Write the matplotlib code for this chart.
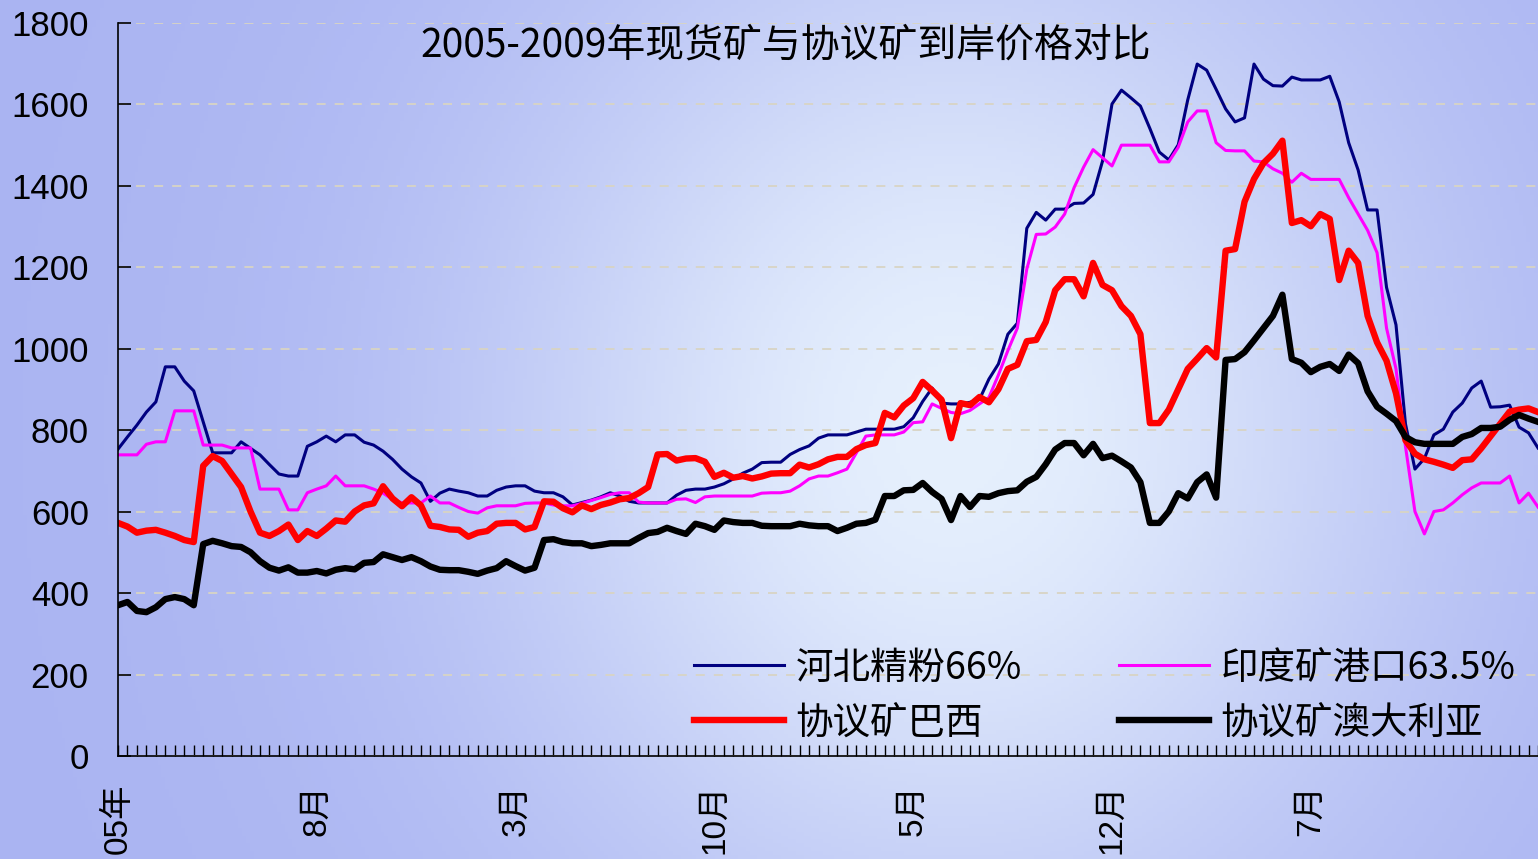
import numpy as np
import matplotlib.pyplot as plt
from matplotlib.lines import Line2D

# ~10-day price points, 2005 Jan -> 2009 Feb
hebei = [753, 783, 812, 844, 869, 955, 955, 920, 896, 820,
         744, 744, 744, 771, 755, 739, 715, 692, 687, 687,
         760, 771, 785, 771, 788, 788, 770, 763, 748, 728,
         704, 685, 670, 625, 645, 655, 650, 646, 638, 638,
         652, 660, 663, 663, 650, 646, 646, 636, 616, 622,
         628, 636, 646, 638, 625, 621, 621, 621, 621, 640,
         652, 655, 655, 660, 668, 680, 694, 704, 720, 721,
         721, 740, 752, 761, 780, 788, 788, 788, 795, 802,
         802, 802, 802, 808, 830, 870, 903, 866, 864, 864,
         868, 875, 925, 962, 1035, 1062, 1295, 1334, 1315, 1342,
         1342, 1356, 1357, 1378, 1460, 1600, 1634, 1615, 1595, 1540,
         1482, 1463, 1500, 1610, 1698, 1683, 1636, 1588, 1556, 1566,
         1698, 1661, 1645, 1644, 1666, 1659, 1659, 1659, 1668, 1605,
         1505, 1438, 1340, 1340, 1150, 1058, 815, 704, 730, 788,
         802, 844, 866, 903, 920, 856, 857, 861, 807, 793, 756]

india = [739, 739, 739, 765, 771, 771, 847, 847, 847, 763,
         763, 763, 756, 756, 756, 655, 655, 655, 604, 604,
         646, 655, 663, 687, 663, 663, 663, 655, 645, 630,
         621, 621, 621, 638, 621, 621, 610, 600, 596, 609,
         614, 614, 614, 620, 621, 621, 616, 614, 614, 620,
         627, 634, 642, 646, 646, 623, 621, 621, 621, 630,
         631, 622, 636, 638, 638, 638, 638, 638, 645, 646,
         646, 650, 663, 680, 687, 687, 695, 704, 744, 785,
         788, 788, 788, 795, 818, 820, 864, 853, 843, 840,
         848, 864, 880, 935, 995, 1050, 1195, 1280, 1281, 1298,
         1330, 1395, 1445, 1488, 1468, 1448, 1499, 1499, 1499, 1499,
         1458, 1458, 1494, 1556, 1583, 1583, 1505, 1486, 1485, 1485,
         1460, 1458, 1441, 1430, 1408, 1430, 1415, 1415, 1415, 1415,
         1370, 1330, 1290, 1235, 1050, 950, 760, 600, 545, 600,
         604, 621, 641, 658, 670, 670, 670, 687, 621, 645, 611]

brazil = [572, 563, 548, 553, 555, 548, 540, 530, 525, 712,
          736, 724, 692, 660, 600, 548, 540, 552, 568, 530,
          552, 540, 558, 578, 575, 600, 615, 620, 662, 632,
          613, 635, 615, 565, 562, 556, 555, 538, 548, 552,
          570, 572, 572, 556, 562, 625, 624, 608, 598, 615,
          606, 616, 622, 630, 633, 645, 660, 740, 741, 725,
          730, 731, 722, 685, 695, 683, 687, 681, 686, 693,
          694, 694, 715, 708, 716, 728, 734, 734, 753, 763,
          768, 842, 831, 860, 878, 918, 897, 874, 780, 866,
          861, 881, 868, 900, 950, 960, 1018, 1021, 1065, 1143,
          1170, 1170, 1128, 1210, 1156, 1143, 1104, 1080, 1035, 817,
          817, 850, 900, 950, 975, 1001, 978, 1240, 1244, 1360,
          1416, 1455, 1478, 1510, 1308, 1315, 1300, 1330, 1318, 1168,
          1240, 1210, 1080, 1015, 970, 890, 775, 742, 728, 722,
          715, 707, 726, 728, 755, 785, 815, 845, 850, 853, 844]

australia = [370, 378, 356, 353, 365, 385, 390, 385, 370, 520,
             528, 522, 515, 513, 500, 478, 462, 455, 463, 450,
             450, 454, 448, 457, 461, 458, 474, 476, 495, 488,
             481, 488, 478, 465, 457, 456, 456, 452, 447, 455,
             461, 478, 466, 455, 462, 530, 532, 525, 522, 522,
             515, 518, 522, 522, 522, 535, 547, 550, 560, 552,
             545, 570, 564, 555, 578, 574, 572, 572, 565, 564,
             564, 564, 570, 566, 564, 564, 552, 560, 570, 572,
             580, 638, 638, 652, 653, 670, 648, 631, 579, 638,
             611, 638, 636, 645, 650, 652, 673, 685, 716, 752,
             768, 768, 738, 766, 731, 737, 723, 708, 672, 572,
             572, 600, 645, 632, 672, 691, 634, 972, 974, 991,
             1020, 1050, 1080, 1132, 974, 965, 942, 955, 962, 945,
             985, 964, 895, 857, 840, 822, 783, 770, 766, 766,
             766, 766, 783, 790, 805, 805, 808, 825, 837, 828, 820]

tick_pos = [0, 21, 42, 63, 84, 105, 126]
tick_labels = ['05年', '8月', '3月', '10月', '5月', '12月', '7月']
y_ticks = [0, 200, 400, 600, 800, 1000, 1200, 1400, 1600, 1800]

cjk = ['Noto Sans CJK SC', 'DejaVu Sans']
latin = ['Liberation Sans', 'Noto Sans CJK SC']

W, H = 1538, 859
fig = plt.figure(figsize=(W / 100, H / 100), dpi=100)

# soft blue background
bg = fig.add_axes([0, 0, 1, 1], zorder=0)
bg.axis('off')
gx, gy = np.meshgrid(np.linspace(0, 1, 400), np.linspace(0, 1, 220))
base = np.array([170, 180, 242]) / 255
light = np.array([230, 240, 253]) / 255
wgt = np.exp(-((gx - 0.62) / 0.30) ** 2 - ((gy - 0.50) / 0.60) ** 2)
img = base * (1 - wgt[..., None]) + light * wgt[..., None]
bg.imshow(img, aspect='auto', extent=[0, 1, 0, 1], origin='upper')
bg.set_xlim(0, 1)
bg.set_ylim(0, 1)

ax = fig.add_axes([118 / W, 1 - 756 / H, 1 - 118 / W, (756 - 22.5) / H], zorder=1)
ax.patch.set_alpha(0)

x = np.arange(len(hebei))
ax.plot(x, hebei, color='#000080', lw=2.2, label='河北精粉66%')
ax.plot(x, india, color='#ff00ff', lw=2.2, label='印度矿港口63.5%')
ax.plot(x, brazil, color='#ff0000', lw=4.6, label='协议矿巴西')
ax.plot(x, australia, color='black', lw=4.6, label='协议矿澳大利亚')

ax.set_xlim(0, len(hebei) - 1)
ax.set_ylim(0, 1800)
ax.set_yticks(y_ticks)
ax.set_yticklabels([str(v) for v in y_ticks], family=latin, fontsize=25)
ax.set_xticks(tick_pos)
ax.set_xticks(x, minor=True)
ax.set_xticklabels(tick_labels, rotation=90, va='top', ha='center',
                   family=latin, fontsize=24)

for s in ['top', 'right']:
    ax.spines[s].set_visible(False)
for s in ['left', 'bottom']:
    ax.spines[s].set_linewidth(1.2)
ax.tick_params(axis='y', direction='in', length=9, width=1.2, pad=21)
ax.tick_params(axis='x', which='both', direction='in', length=8, width=1.0, pad=20)

ax.yaxis.grid(True, ls=(0, (5, 5)), color='#d8d4c4', lw=1.3)
ax.set_axisbelow(True)

ax.text(0.47, 0.969, '2005-2009年现货矿与协议矿到岸价格对比', transform=ax.transAxes,
        ha='center', va='center', fontsize=28, family=cjk)

h = ax.get_lines()
order = [h[0], h[2], h[1], h[3]]
ax.legend(order, [l.get_label() for l in order],
          ncol=2, loc='lower right', bbox_to_anchor=(1.0, -0.012), frameon=False,
          prop={'family': cjk, 'size': 27}, handlelength=2.4, handletextpad=0.3,
          columnspacing=2.6, labelspacing=0.42, borderaxespad=0.2)

fig.savefig('out.png', dpi=100)
